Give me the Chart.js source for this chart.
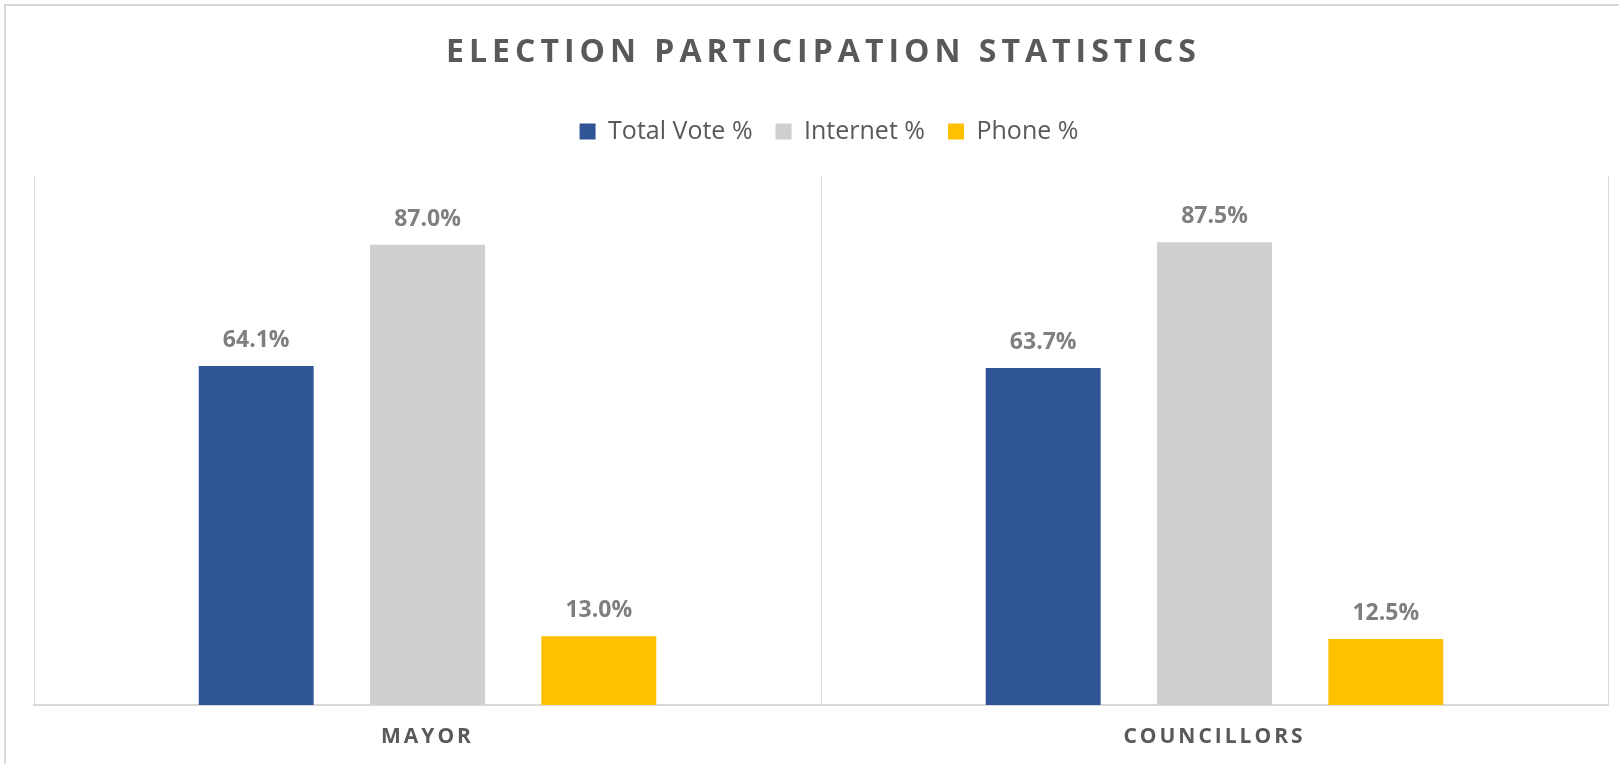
<!DOCTYPE html>
<html>
<head>
<meta charset="utf-8">
<title>Election Participation Statistics</title>
<script src="https://cdn.jsdelivr.net/npm/chart.js@4.4.1/dist/chart.umd.min.js"></script>
<style>
  html, body { margin: 0; padding: 0; background: #fff; overflow: hidden; }
  #wrap { position: relative; width: 1619px; height: 764px; }
</style>
</head>
<body>
<div id="wrap"><canvas id="chart"></canvas></div>
<script>
const chartTitle = 'ELECTION PARTICIPATION STATISTICS';
const categories = ['MAYOR', 'COUNCILLORS'];
const seriesNames = ['Total Vote %', 'Internet %', 'Phone %'];
const totalVote = [64.1, 63.7];
const internet = [87.0, 87.5];
const phone = [13.0, 12.5];
const seriesColors = ['#2f5597', '#d0cece', '#ffc000'];

const FONT = "'Open Sans', sans-serif";

// value labels, letter-spaced axis labels, title and outer frame
const decorations = {
  id: 'decorations',
  afterLayout(chart) {
    // legend sits a little right of the plot centre
    chart.legend.left += 8;
    chart.legend.right += 8;
  },
  beforeDraw(chart) {
    const ctx = chart.ctx;
    ctx.save();
    ctx.strokeStyle = '#d9d9d9';
    ctx.lineWidth = 2;
    ctx.strokeRect(5, 5, chart.width + 10, chart.height + 10);
    ctx.restore();
  },
  afterDatasetsDraw(chart) {
    const ctx = chart.ctx;
    ctx.save();
    ctx.font = `bold 23px ${FONT}`;
    ctx.fillStyle = '#7f7f7f';
    ctx.textAlign = 'center';
    ctx.textBaseline = 'alphabetic';
    chart.data.datasets.forEach((ds, i) => {
      chart.getDatasetMeta(i).data.forEach((bar, j) => {
        ctx.fillText(ds.data[j].toFixed(1) + '%', bar.x, bar.y - 19);
      });
    });
    ctx.restore();
    // x tick labels are drawn after this hook (ticks.z = 1)
    ctx.letterSpacing = '3px';
  },
  afterDraw(chart) {
    const ctx = chart.ctx;
    const { left, right } = chart.chartArea;
    ctx.save();
    ctx.letterSpacing = '5px';
    ctx.font = `bold 32px ${FONT}`;
    ctx.fillStyle = '#595959';
    ctx.textAlign = 'center';
    ctx.textBaseline = 'alphabetic';
    ctx.fillText(chartTitle, (left + right) / 2 + 2.5, 62);
    ctx.restore();
    ctx.letterSpacing = '0px';
  }
};

function makeDataset(label, data, color) {
  return {
    label: label,
    data: data,
    backgroundColor: color,
    borderWidth: 0,
    categoryPercentage: 0.653,
    barPercentage: 0.671
  };
}

Chart.defaults.font.family = FONT;

Promise.all([
  document.fonts.load(`24px ${FONT}`),
  document.fonts.load(`bold 24px ${FONT}`)
]).catch(() => {}).then(() => {
  new Chart(document.getElementById('chart'), {
    type: 'bar',
    data: {
      labels: categories,
      datasets: [
        makeDataset(seriesNames[0], totalVote, seriesColors[0]),
        makeDataset(seriesNames[1], internet, seriesColors[1]),
        makeDataset(seriesNames[2], phone, seriesColors[2])
      ]
    },
    options: {
      responsive: true,
      maintainAspectRatio: false,
      animation: false,
      layout: {
        padding: { top: 96, left: 34, right: 11, bottom: 0 }
      },
      plugins: {
        title: { display: false },
        tooltip: { enabled: false },
        legend: {
          position: 'top',
          labels: {
            color: '#595959',
            font: { size: 25 },
            boxWidth: 16,
            boxHeight: 16,
            padding: 23
          }
        }
      },
      scales: {
        x: {
          grid: {
            color: '#d9d9d9',
            lineWidth: 1,
            drawTicks: false
          },
          border: { color: '#d9d9d9', width: 2 },
          ticks: {
            z: 1,
            color: '#595959',
            padding: 22,
            font: { size: 21, weight: 'bold', lineHeight: 1 }
          },
          afterFit(scale) { scale.height = 59; }
        },
        // empty top axis: only keeps a gap between legend and plot
        gap: {
          type: 'category',
          position: 'top',
          grid: { display: false },
          border: { display: false },
          ticks: { display: false },
          afterFit(scale) { scale.height = 22; }
        },
        y: {
          display: false,
          min: 0,
          max: 100
        }
      }
    },
    plugins: [decorations]
  });
});
</script>
</body>
</html>
